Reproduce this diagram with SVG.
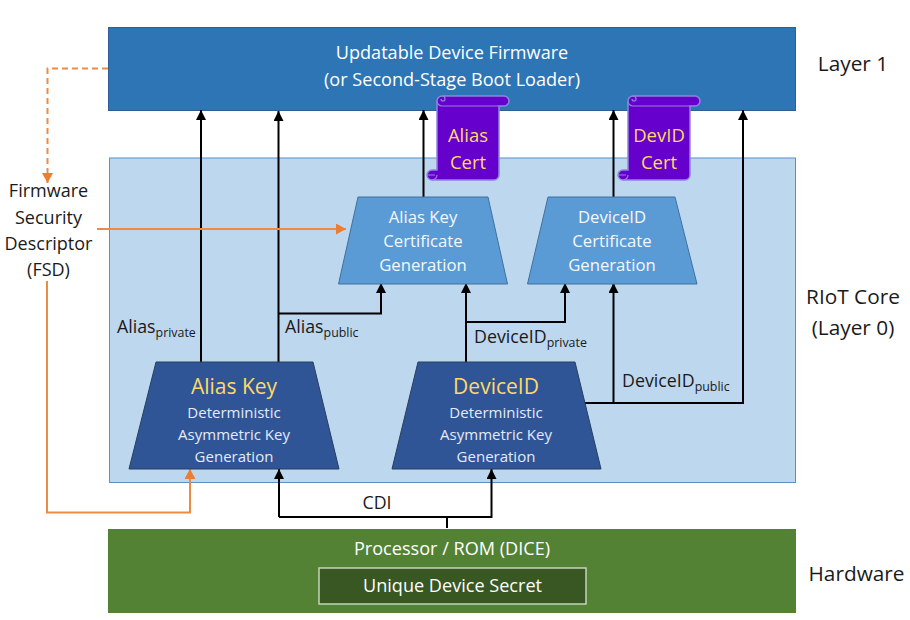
<svg xmlns="http://www.w3.org/2000/svg" width="910" height="620" viewBox="0 0 910 620">
<style>
text{font-family:"Open Sans","Noto Sans","DejaVu Sans",sans-serif;text-anchor:middle}
.blk{fill:#1a1a1a;font-size:17.800px}
.fsd{fill:#1a1a1a;font-size:18px}
.side{fill:#1a1a1a;font-size:20.800px}
.wht{fill:#fff;font-size:18.100px}
.lt{fill:#e4ebf6;font-size:15px}
.ltm{fill:#f4f8fd;font-size:16.700px}
.gold{fill:#ffd966;font-size:21px}
.cert{fill:#ffd966;font-size:18.500px}
.sub{font-size:12.400px}
.lbl{text-anchor:start}
.c{fill:none;stroke:#000;stroke-width:2}
.o{fill:none;stroke:#ed8b45;stroke-width:2}
.scroll{fill:#6600cc;stroke:#8e86dc;stroke-width:1.5}
.curl{fill:none;stroke:#8e86dc;stroke-width:1.2}
.dark{fill:#2f5597;stroke:#26405f;stroke-width:1}
.mid{fill:#5b9bd5;stroke:#41719c;stroke-width:1}
</style>
<defs>
<marker id="a" markerUnits="userSpaceOnUse" markerWidth="12" markerHeight="11" refX="10" refY="5" orient="auto"><path d="M0 0L10 5L0 10Z" fill="#000"/></marker>
<marker id="b" markerUnits="userSpaceOnUse" markerWidth="12" markerHeight="12" refX="10" refY="5.500" orient="auto"><path d="M0 0L10 5.500L0 11Z" fill="#ed7d31"/></marker>
</defs>
<g id="layer1"><rect x="108.500" y="27.500" width="687" height="83" fill="#2e75b6" stroke="#2f5f96"/>
<text class="wht" x="452" y="59">Updatable Device Firmware</text><text class="wht" x="452" y="85.500">(or Second-Stage Boot Loader)</text></g>
<g id="riot"><rect x="109.500" y="158" width="686" height="324.500" fill="#bdd7ee" stroke="#5b8fc7"/></g>
<g id="hardware"><rect x="108" y="529" width="688" height="84" fill="#548235"/>
<text class="wht" x="452" y="554.500">Processor / ROM (DICE)</text></g>
<g id="uds"><rect x="319" y="568" width="267" height="36" fill="#385723" stroke="#c5d3bc" stroke-width="1.500"/>
<text class="wht" x="452.500" y="591.500">Unique Device Secret</text></g>
<g id="connectors">
<path class="c" d="M201 362V110" marker-end="url(#a)"/>
<path class="c" d="M278.500 362V111" marker-end="url(#a)"/>
<path class="c" d="M278.500 313.500H381V283" marker-end="url(#a)"/>
<path class="c" d="M423.500 197V110" marker-end="url(#a)"/>
<path class="c" d="M613.500 197V110" marker-end="url(#a)"/>
<path class="c" d="M466 362V283" marker-end="url(#a)"/>
<path class="c" d="M466 322H565V283" marker-end="url(#a)"/>
<path class="c" d="M585 403H743V110" marker-end="url(#a)"/>
<path class="c" d="M613.500 403V283" marker-end="url(#a)"/>
<path class="c" d="M447 528V517"/>
<path class="c" d="M279 517V469" marker-end="url(#a)"/>
<path class="c" d="M279 517H491.500V469" marker-end="url(#a)"/>
<path class="o" d="M108 68.500H47.500V183" stroke-dasharray="6 4" marker-end="url(#b)"/>
<path class="o" d="M97 229H346" marker-end="url(#b)"/>
<path class="o" d="M47 281V512.500H190V469" marker-end="url(#b)"/>
</g>
<g id="alias-cert-gen"><path class="mid" d="M358 197H488L507.500 284H338.500Z"/>
<text class="ltm" x="423" y="223">Alias Key</text><text class="ltm" x="423" y="247">Certificate</text><text class="ltm" x="423" y="271">Generation</text></g>
<g id="deviceid-cert-gen"><path class="mid" d="M548 197H675L697 284H527.500Z"/>
<text class="ltm" x="612" y="223">DeviceID</text><text class="ltm" x="612" y="247">Certificate</text><text class="ltm" x="612" y="271">Generation</text></g>
<g id="alias-key"><path class="dark" d="M156 362H313L339 469H129Z"/>
<text class="gold" x="234" y="394">Alias Key</text><text class="lt" x="234" y="418">Deterministic</text><text class="lt" x="234" y="440">Asymmetric Key</text><text class="lt" x="234" y="462">Generation</text></g>
<g id="deviceid"><path class="dark" d="M418 362H575L601 469H392Z"/>
<text class="gold" x="496" y="394">DeviceID</text><text class="lt" x="496" y="418">Deterministic</text><text class="lt" x="496" y="440">Asymmetric Key</text><text class="lt" x="496" y="462">Generation</text></g>
<g id="alias-cert"><path class="scroll" d="M442 96H504a5 5 0 0 1 0 10H499V175a5 5 0 0 1-5 5H432a5 5 0 0 1 0-10H437V101a5 5 0 0 1 5-5Z"/>
<path class="curl" d="M437 101a5 5 0 0 0 5 5H499M442 96a3 3 0 0 1 3 3a2 2 0 0 1-4 0M437 175a5 5 0 0 1-5 5M427 175H435"/>
<text class="cert" x="468" y="142">Alias</text><text class="cert" x="468" y="169">Cert</text></g>
<g id="devid-cert"><path class="scroll" d="M633 96H695a5 5 0 0 1 0 10H690V175a5 5 0 0 1-5 5H623a5 5 0 0 1 0-10H628V101a5 5 0 0 1 5-5Z"/>
<path class="curl" d="M628 101a5 5 0 0 0 5 5H690M633 96a3 3 0 0 1 3 3a2 2 0 0 1-4 0M628 175a5 5 0 0 1-5 5M618 175H626"/>
<text class="cert" x="659" y="142">DevID</text><text class="cert" x="659" y="169">Cert</text></g>
<g id="fsd"><text class="fsd" x="48.500" y="197">Firmware</text><text class="fsd" x="48.500" y="224">Security</text><text class="fsd" x="48.500" y="250">Descriptor</text><text class="fsd" x="48.500" y="276">(FSD)</text></g>
<g id="labels">
<text class="blk lbl" x="117" y="333">Alias<tspan class="sub" dy="4">private</tspan></text>
<text class="blk lbl" x="285" y="333">Alias<tspan class="sub" dy="4">public</tspan></text>
<text class="blk lbl" x="474" y="343">DeviceID<tspan class="sub" dy="4">private</tspan></text>
<text class="blk lbl" x="622" y="387">DeviceID<tspan class="sub" dy="4">public</tspan></text>
<text class="blk" x="377" y="509">CDI</text>
<text class="side" x="853" y="71">Layer 1</text>
<text class="side" x="853" y="304">RIoT Core</text><text class="side" x="853" y="335">(Layer 0)</text>
<text class="side" x="856.500" y="581">Hardware</text>
</g>
</svg>
